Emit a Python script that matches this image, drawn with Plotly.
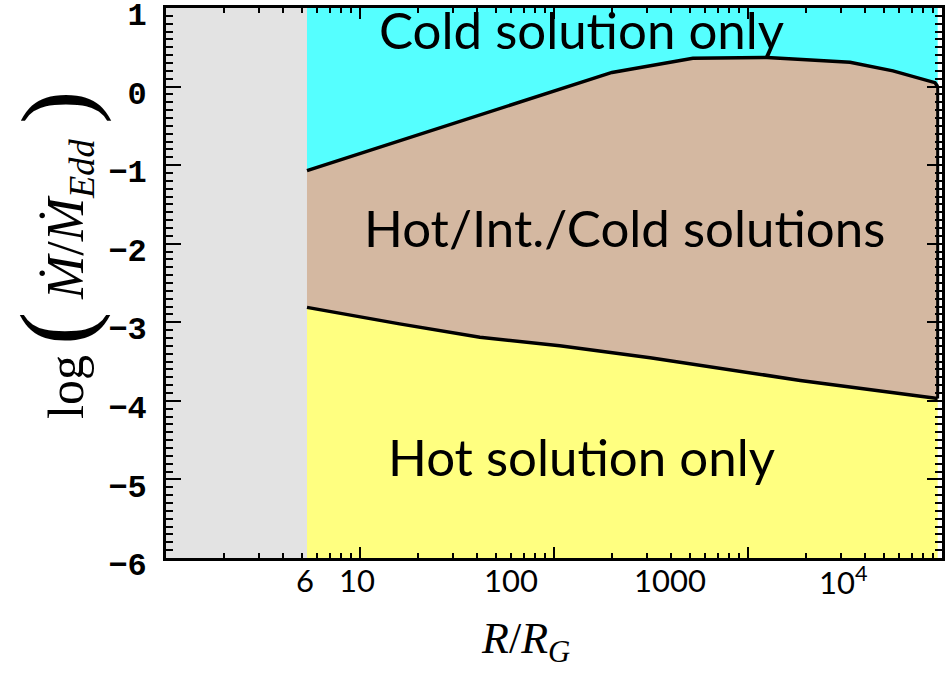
import numpy as np
import plotly.graph_objects as go

# ---- data ----
r_isco = 5.33            # inner edge of allowed region (gray area to the left)
r_min, r_max = 1.0, 1.0e4
y_min, y_max = -6.0, 1.0

# upper boundary (cold-only / hot-int-cold)
r_upper = [5.33, 23.5, 85, 199, 520, 1253, 3357, 5587, 9200, 9500]
m_upper = [-1.07, -0.56, -0.11, 0.18, 0.36, 0.37, 0.31, 0.20, 0.05, 0.0]

# lower boundary (hot-int-cold / hot-only)
r_lower = [5.33, 16.0, 41.5, 107, 313, 1860, 9500]
m_lower = [-2.81, -3.02, -3.19, -3.30, -3.45, -3.74, -3.97]

# x tick labels (as placed in the figure) and their positions in R
xlab_text = ["6", "10", "100", "1000", "10<sup>4</sup>"]
xlab_pos = [5.2, 9.7, 60.0, 396.0, 3090.0]

region_labels = ["Cold solution only", "Hot/Int./Cold solutions", "Hot solution only"]
region_label_r = [138.0, 232.0, 138.0]
region_label_m = [0.725, -1.79, -4.71]

# ---- colours ----
c_gray = "#e3e3e3"
c_cyan = "#55ffff"
c_tan = "#d4b8a1"
c_yellow = "#ffff80"

fig = go.Figure()

# gray excluded region
fig.add_trace(go.Scatter(x=[r_min, r_min, r_isco, r_isco], y=[y_min, y_max, y_max, y_min],
                         fill="toself", fillcolor=c_gray, mode="lines", line=dict(width=0),
                         hoverinfo="skip", showlegend=False))
# cyan region: above upper boundary
fig.add_trace(go.Scatter(x=r_upper + [r_upper[-1], r_upper[0]],
                         y=m_upper + [y_max, y_max],
                         fill="toself", fillcolor=c_cyan, mode="lines", line=dict(width=0),
                         hoverinfo="skip", showlegend=False))
# tan region between boundaries
fig.add_trace(go.Scatter(x=r_upper + r_lower[::-1],
                         y=m_upper + m_lower[::-1],
                         fill="toself", fillcolor=c_tan, mode="lines", line=dict(width=0),
                         hoverinfo="skip", showlegend=False))
# yellow region below lower boundary
fig.add_trace(go.Scatter(x=r_lower + [r_lower[-1], r_lower[0]],
                         y=m_lower + [y_min, y_min],
                         fill="toself", fillcolor=c_yellow, mode="lines", line=dict(width=0),
                         hoverinfo="skip", showlegend=False))
# boundary lines
fig.add_trace(go.Scatter(x=r_upper, y=m_upper, mode="lines",
                         line=dict(color="black", width=3.5), showlegend=False))
fig.add_trace(go.Scatter(x=r_lower, y=m_lower, mode="lines",
                         line=dict(color="black", width=3.5), showlegend=False))
fig.add_trace(go.Scatter(x=[r_upper[-1], r_lower[-1]], y=[m_upper[-1], m_lower[-1]], mode="lines",
                         line=dict(color="black", width=3), showlegend=False))

fig.update_xaxes(type="log", range=[np.log10(r_min), np.log10(r_max)], automargin=False,
                 showgrid=False, zeroline=False, showline=True, linecolor="black", linewidth=3,
                 mirror="ticks", ticks="inside", ticklen=11, tickwidth=2, tickcolor="black",
                 dtick=1, showticklabels=False,
                 minor=dict(ticks="inside", ticklen=5, tickwidth=1.5, tickcolor="black",
                            dtick="D1", showgrid=False))
fig.update_yaxes(range=[y_min, y_max], automargin=False, showgrid=False, zeroline=False,
                 showline=True, linecolor="black", linewidth=3, mirror="ticks", ticks="inside",
                 ticklen=15, tickwidth=2, tickcolor="black", dtick=1,
                 tickfont=dict(family="Liberation Mono", size=32, color="black", weight="bold"),
                 ticklabelstandoff=10, ticklabelshift=6, ticklabeloverflow="allow",
                 minor=dict(ticks="inside", ticklen=7, tickwidth=1.5, tickcolor="black",
                            dtick=0.1, showgrid=False))

# x tick labels placed as in the figure
for t, p in zip(xlab_text, xlab_pos):
    fig.add_annotation(x=np.log10(p), y=-0.04, xref="x", yref="paper", text=t,
                       showarrow=False, xanchor="center", yanchor="middle",
                       font=dict(family="Lato", size=31, color="black"))

# region labels
for t, r, m in zip(region_labels, region_label_r, region_label_m):
    fig.add_annotation(x=np.log10(r), y=m, xref="x", yref="y", text=t, showarrow=False,
                       xanchor="center", yanchor="middle",
                       font=dict(family="Lato", size=51, color="black"))

serif = "Liberation Serif, DejaVu Serif"
# x axis title
fig.add_annotation(x=0.463, y=-0.152, xref="paper", yref="paper",
                   text="<i>R</i>/<i>R</i><sub><i>G</i></sub>", showarrow=False,
                   xanchor="center", yanchor="middle",
                   font=dict(family=serif, size=44, color="black"))
# y axis title, built from pieces so the large delimiters can be sized
ytitle_parts = [
    ("log", 50, -0.1289, 0.3109),
    ("(", 100, -0.1418, 0.4182),
    ("<i>Ṁ</i>/<i>Ṁ</i><sub><i>Edd</i></sub>", 52, -0.1237, 0.6164),
    (")", 100, -0.1418, 0.8200),
]
for txt, sz, xp, yp in ytitle_parts:
    fig.add_annotation(x=xp, y=yp, xref="paper", yref="paper", text=txt, textangle=-90,
                       showarrow=False, xanchor="center", yanchor="middle",
                       font=dict(family=serif, size=sz, color="black"))

fig.update_layout(width=948, height=674, margin=dict(l=166, r=6, t=8, b=116),
                  plot_bgcolor="white", paper_bgcolor="white", showlegend=False)

fig.write_html("out.html")
